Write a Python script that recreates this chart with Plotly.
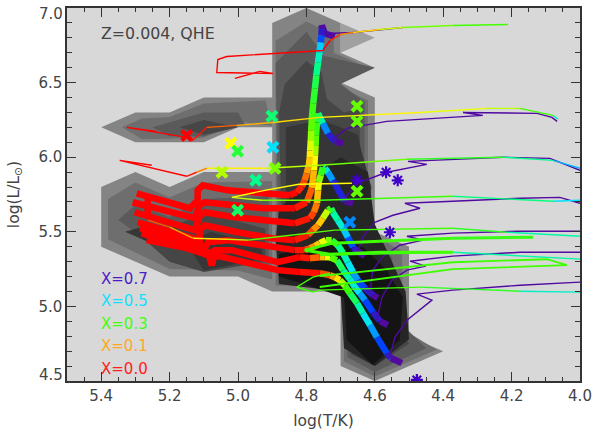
import plotly.graph_objects as go

# ---- grey density bands (logT, logL outlines, lightest first) ----
band_tip = [[(4.7,6.9),(4.6,6.8),(4.7,6.7)]]
band_outer = [[(4.9,6.9),(4.8,7.0),(4.7,6.9),(4.7,6.7),(4.6,6.6),(4.7,6.5),(4.6,6.4),(4.6,5.5),(4.5,5.4),(4.5,4.8),(4.4,4.7),(4.6,4.5),(4.7,4.6),(4.7,5.1),(4.9,5.1),(5.0,5.2),(5.2,5.2),(5.4,5.4),(5.4,5.8),(5.3,5.9),(5.2,5.8),(5.1,5.9),(4.9,5.9),(4.9,6.2),(5.0,6.2),(5.1,6.1),(5.3,6.1),(5.4,6.2),(5.3,6.3),(5.2,6.3),(5.1,6.4),(4.9,6.4)]]
band_3 = [
    [(4.89,6.6),(4.89,6.78),(4.8,6.91),(4.74,6.84),(4.72,6.78),(4.72,6.7),(4.62,6.6),(4.72,6.49),(4.62,6.38),(4.62,5.5),(4.52,5.37),(4.52,4.85),(4.42,4.71),(4.6,4.53),(4.69,4.63),(4.69,5.13),(4.89,5.14)],
    [(5.38,5.45),(5.38,5.72),(5.3,5.83),(5.2,5.73),(5.1,5.83),(4.9,5.84),(4.9,5.18),(5.0,5.24),(5.2,5.25)],
    [(5.34,6.2),(5.28,6.26),(5.2,6.27),(5.1,6.36),(4.92,6.38),(4.9,6.21),(5.0,6.24),(5.1,6.13),(5.28,6.12)],
]
band_4 = [
    [(4.89,6.63),(4.8,6.84),(4.75,6.68),(4.6,6.6),(4.7,6.49),(4.63,6.37),(4.63,5.52),(4.55,5.33),(4.53,4.9),(4.45,4.72),(4.6,4.56),(4.68,4.66),(4.68,5.15),(4.88,5.2)],
    [(5.35,5.58),(5.3,5.68),(5.2,5.6),(5.1,5.72),(4.91,5.74),(4.91,5.25),(5.0,5.28),(5.2,5.32)],
    [(5.25,6.2),(5.1,6.3),(5.0,6.3),(4.98,6.22),(5.1,6.14),(5.2,6.14)],
]
band_5 = [
    [(4.863,6.49),(4.8,6.645),(4.756,6.57),(4.74,6.39),(4.69,6.3),(4.645,6.33),(4.64,5.6),(4.57,5.35),(4.54,4.92),(4.5,4.75),(4.6,4.6),(4.67,4.68),(4.67,5.15),(4.87,5.25),(4.88,6.3)],
    [(5.3,5.5),(5.2,5.53),(5.1,5.62),(5.0,5.57),(4.92,5.52),(4.92,5.3),(5.1,5.23),(5.2,5.3)],
    [(5.17,6.2),(5.1,6.25),(5.0,6.2),(5.1,6.15)],
]
band_6 = [
    [(4.86,6.2),(4.76,6.25),(4.7,6.2),(4.65,6.15),(4.64,6.05),(4.61,5.8),(4.62,5.6),(4.56,5.35),(4.55,4.95),(4.52,4.78),(4.6,4.62),(4.66,4.7),(4.66,5.15),(4.86,5.3)],
    [(5.33,5.5),(5.25,5.55),(5.18,5.47),(5.25,5.42)],
    [(5.15,5.42),(5.08,5.5),(5.0,5.45),(4.93,5.38),(4.93,5.32),(5.1,5.24)],
]
band_7 = [[(4.89,5.45),(4.88,5.15),(4.7,5.1),(4.69,4.72),(4.6,4.6),(4.5,4.78),(4.51,5.1),(4.55,5.3),(4.6,5.55),(4.62,5.9),(4.7,6.0),(4.8,5.85),(4.88,5.65)]]
band_8 = [[(4.88,5.35),(4.88,5.2),(4.78,5.13),(4.69,5.06),(4.688,5.02),(4.682,4.774),(4.606,4.607),(4.527,4.774),(4.518,5.06),(4.565,5.243),(4.635,5.397),(4.7,5.45),(4.8,5.4)]]
band_colors = ["#a0a0a0","#848484","#6e6e6e","#5a5a5a","#464646","#363636","#262626","#141414"]

# ---- thick tracks: logT, logL, hydrogen fraction X ----
t1_T = [4.717,4.746,4.755,4.755,4.756,4.758,4.762,4.766,4.771,4.775,4.780,4.784,4.786,4.787,4.789,4.790,4.793,4.799,4.805,4.813,4.828,4.849,4.930,5.030,5.103,5.118,5.118,5.141,5.296]
t1_L = [6.809,6.829,6.883,6.863,6.816,6.769,6.702,6.635,6.548,6.461,6.361,6.260,6.180,6.113,6.046,6.000,5.946,5.892,5.845,5.805,5.765,5.745,5.758,5.778,5.812,5.778,5.711,5.658,5.758]
t1_X = [.7,.7,.7,.7,.62,.55,.47,.42,.37,.34,.32,.3,.27,.24,.2,.17,.13,.09,.06,.03,.01,0,0,0,0,0,0,0,0]
t2_T = [4.693,4.717,4.737,4.752,4.766,4.769,4.772,4.773,4.775,4.778,4.784,4.799,4.834,4.930,5.009,5.097,5.112,5.126,5.308]
t2_L = [6.093,6.106,6.160,6.227,6.294,6.233,6.146,6.080,6.013,5.912,5.792,5.698,5.658,5.658,5.678,5.698,5.678,5.591,5.698]
t2_X = [.7,.7,.6,.5,.36,.33,.3,.27,.23,.17,.09,.03,0,0,0,0,0,0,0]
t3_T = [4.664,4.688,4.723,4.737,4.746,4.752,4.758,4.764,4.766,4.769,4.778,4.790,4.834,4.930,5.009,5.097,5.112,5.126,5.302]
t3_L = [5.691,5.705,5.845,5.899,5.926,5.932,5.879,5.832,5.778,5.691,5.631,5.591,5.557,5.578,5.598,5.631,5.604,5.511,5.631]
t3_X = [.7,.7,.58,.5,.45,.36,.28,.24,.18,.1,.06,.03,0,0,0,0,0,0,0]
t4_T = [4.629,4.650,4.664,4.679,4.693,4.708,4.723,4.728,4.737,4.752,4.766,4.781,4.796,4.834,4.901,5.001,5.097,5.112,5.112,5.293]
t4_L = [5.337,5.370,5.397,5.464,5.524,5.578,5.631,5.658,5.644,5.591,5.544,5.511,5.477,5.444,5.457,5.497,5.544,5.511,5.444,5.564]
t4_X = [.7,.7,.62,.55,.48,.44,.4,.34,.28,.18,.12,.07,.03,0,0,0,0,0,0,0]
t5_T = [4.591,4.606,4.629,4.650,4.664,4.679,4.693,4.708,4.726,4.743,4.761,4.775,4.790,4.805,4.834,4.901,5.030,5.088,5.097,5.287]
t5_L = [5.056,5.076,5.122,5.176,5.230,5.296,5.357,5.410,5.444,5.444,5.424,5.404,5.390,5.377,5.377,5.397,5.444,5.430,5.390,5.524]
t5_X = [.7,.7,.62,.56,.52,.46,.42,.38,.3,.24,.18,.12,.07,.03,0,0,0,0,0,0]
t6_T = [4.562,4.585,4.606,4.629,4.644,4.658,4.673,4.693,4.711,4.731,4.746,4.761,4.790,4.819,4.884,5.018,5.068,5.088,5.282]
t6_L = [4.875,4.902,4.962,5.042,5.089,5.129,5.183,5.243,5.310,5.330,5.330,5.330,5.323,5.330,5.296,5.377,5.377,5.343,5.491]
t6_X = [.7,.7,.62,.56,.52,.48,.44,.4,.33,.25,.17,.1,.03,0,0,0,0,0,0]
t7_T = [4.521,4.553,4.565,4.594,4.614,4.635,4.652,4.673,4.688,4.702,4.717,4.731,4.761,4.819,4.884,5.030,5.068,5.077,5.088,5.267]
t7_L = [4.620,4.654,4.687,4.794,4.875,4.955,5.022,5.089,5.142,5.176,5.196,5.209,5.223,5.230,5.243,5.323,5.343,5.276,5.363,5.444]
t7_X = [.7,.7,.62,.56,.52,.46,.4,.33,.28,.2,.14,.08,.02,0,0,0,0,0,0,0]
hook_T = [5.264,5.264]
hook_L = [5.745,5.600]
hook_X = [0,0]

# ---- thin tracks ----
a1_T = [4.740,4.664,4.518]
a1_L = [6.829,6.836,6.869]
a1_X = [.7,.7,.7]
a2_T = [4.211,4.372,4.518,4.585,4.664,4.702,4.731,4.752,5.033,5.059,5.062,4.898,4.936,5.009]
a2_L = [6.889,6.883,6.869,6.856,6.836,6.822,6.782,6.715,6.675,6.655,6.568,6.561,6.575,6.528]
a2_X = [.3,.3,.25,.2,.12,.05,0,0,0,0,0,0,0,0]
b1_T = [4.726,4.682,4.565,4.284,4.342,4.126,4.082,4.067]
b1_L = [6.113,6.193,6.240,6.280,6.300,6.294,6.267,6.240]
b1_X = [.7,.7,.7,.7,.7,.7,.7,.7]
b2_T = [4.064,4.079,4.175,4.272,4.468,4.761,4.898,5.004,5.091,5.132,5.150,5.325,5.238]
b2_L = [6.254,6.280,6.327,6.327,6.300,6.267,6.233,6.213,6.200,6.113,6.133,6.200,6.173]
b2_X = [.55,.35,.25,.22,.2,.18,.15,.1,.03,0,0,0,0]
c1_T = [4.693,4.652,4.565,4.448,4.503,4.225,4.088,4.000]
c1_L = [5.711,5.825,5.899,5.952,5.972,6.000,5.992,5.912]
c1_X = [.7,.7,.7,.7,.7,.7,.7,.7]
c2_T = [4.000,4.079,4.225,4.506,4.761,4.916,5.091,5.121,5.150,5.346,5.252]
c2_L = [5.926,5.979,6.000,5.986,5.946,5.926,5.926,5.899,5.872,5.979,5.946]
c2_X = [.6,.45,.35,.3,.25,.22,.15,.03,0,0,0]
d1_T = [4.650,4.635,4.600,4.547,4.468,4.512,4.372,4.175,4.059,4.000]
d1_L = [5.363,5.464,5.564,5.611,5.658,5.691,5.705,5.725,5.731,5.691]
d1_X = [.7,.7,.7,.7,.7,.7,.7,.7,.7,.7]
d2_T = [4.000,4.079,4.372,4.761,4.930,5.018,4.922,4.822,4.667]
d2_L = [5.711,5.705,5.738,5.711,5.711,5.731,5.778,5.819,5.825]
d2_X = [.55,.45,.33,.28,.26,.2,.2,.2,.2]
e1_T = [4.614,4.606,4.579,4.527,4.459,4.506,4.372,4.175,4.000]
e1_L = [5.089,5.243,5.330,5.410,5.444,5.470,5.491,5.504,5.504]
e1_X = [.7,.7,.7,.7,.7,.7,.7,.7,.7]
e2_T = [4.000,4.214,4.372,4.717,4.971,5.030,5.132,5.200,5.264]
e2_L = [5.470,5.497,5.524,5.511,5.444,5.450,5.457,5.531,5.578]
e2_X = [.5,.35,.3,.3,.28,.2,.15,.08,.03]
f1_T = [4.137,4.372,4.585,4.723,4.805,4.731,4.585,4.372]
f1_L = [5.464,5.457,5.437,5.424,5.377,5.350,5.363,5.363]
f1_X = [.32,.31,.3,.3,.3,.3,.3,.3]
g1_T = [4.594,4.579,4.550,4.506,4.451,4.497,4.372,4.175,4.000]
g1_L = [4.908,5.062,5.176,5.243,5.270,5.303,5.337,5.363,5.363]
g1_X = [.7,.7,.7,.7,.7,.7,.7,.7,.7]
g2_T = [4.000,4.372,4.761]
g2_L = [5.317,5.363,5.343]
g2_X = [.52,.33,.3]
h1_T = [4.761,4.372,4.097,4.038,4.372,4.761]
h1_L = [5.203,5.296,5.316,5.276,5.250,5.130]
h1_X = [.3,.3,.3,.3,.3,.3]
i1_T = [4.556,4.541,4.506,4.433,4.477,4.372,4.175,4.000]
i1_L = [4.661,4.794,4.908,5.042,5.082,5.109,5.142,5.163]
i1_X = [.7,.7,.7,.7,.7,.7,.7,.7]
i2_T = [4.000,4.175,4.468,4.761,4.781,4.828,4.781,4.731]
i2_L = [5.096,5.102,5.129,5.109,5.096,5.130,5.196,5.223]
i2_X = [.55,.35,.3,.3,.3,.3,.3,.3]

# ---- end-point markers ----
cross_T = [5.150,4.901,5.021,5.001,4.898,4.892,5.047,4.948,5.001,4.652,4.652,4.652,4.673]
cross_L = [6.146,6.274,6.093,6.040,6.066,5.926,5.899,5.845,5.644,6.341,6.240,5.772,5.564]
cross_X = [0,.38,.2,.34,.5,.27,.24,.4,.37,.28,.28,.28,.55]
star_T = [4.652,4.567,4.533,4.556,4.477]
star_L = [5.845,5.899,5.845,5.497,4.507]

legend_labels = ["X=0.7","X=0.5","X=0.3","X=0.1","X=0.0"]
legend_colors = ["#4a1cc8","#10e0ff","#40ff10","#ffa820","#ff2020"]
legend_L = [5.183,5.035,4.882,4.734,4.580]

stops = [(0,(255,0,0)),(.1,(255,150,0)),(.2,(255,255,0)),(.3,(64,255,0)),(.4,(0,255,140)),
         (.5,(0,225,255)),(.6,(0,50,255)),(.7,(80,10,160))]
def col(x):
    for (a,ca),(b,cb) in zip(stops,stops[1:]):
        if x <= b:
            f = (x-a)/(b-a)
            return "rgb(%d,%d,%d)" % tuple(round(p+(q-p)*f) for p,q in zip(ca,cb))
    return "rgb(80,10,160)"

fig = go.Figure()
for polys, c in zip([band_tip,band_outer,band_3,band_4,band_5,band_6,band_7,band_8], band_colors):
    xs, ys = [], []
    for p in polys:
        xs += [q[0] for q in p] + [p[0][0], None]
        ys += [q[1] for q in p] + [p[0][1], None]
    fig.add_trace(go.Scatter(x=xs, y=ys, mode="lines", fill="toself", fillcolor=c, line=dict(width=0), hoverinfo="skip"))

def draw(tracks, width):
    for T, L, X in tracks:
        i = 0
        while i < len(T)-1:
            j = i+1
            while j < len(T)-1 and X[j] == X[i] and X[j+1] == X[i]:
                j += 1
            fig.add_trace(go.Scatter(x=T[i:j+1], y=L[i:j+1], mode="lines", hoverinfo="skip",
                                     line=dict(color=col((X[i]+X[j])/2), width=width)))
            i = j

draw([(t7_T,t7_L,t7_X),(t6_T,t6_L,t6_X),(t5_T,t5_L,t5_X),(t4_T,t4_L,t4_X),(t3_T,t3_L,t3_X),
      (t2_T,t2_L,t2_X),(t1_T,t1_L,t1_X),(hook_T,hook_L,hook_X)], 6.5)
draw([(a1_T,a1_L,a1_X),(a2_T,a2_L,a2_X),(b1_T,b1_L,b1_X),(b2_T,b2_L,b2_X),(c1_T,c1_L,c1_X),(c2_T,c2_L,c2_X),
      (d1_T,d1_L,d1_X),(d2_T,d2_L,d2_X),(e1_T,e1_L,e1_X),(e2_T,e2_L,e2_X),(g1_T,g1_L,g1_X),(g2_T,g2_L,g2_X),
      (i1_T,i1_L,i1_X),(i2_T,i2_L,i2_X)], 1.4)
draw([(h1_T,h1_L,h1_X)], 1.8)
draw([(f1_T,f1_L,f1_X)], 3)

fig.add_trace(go.Scatter(x=cross_T, y=cross_L, mode="markers", hoverinfo="skip",
    marker=dict(symbol="x-thin-open", size=10, color=[col(v) for v in cross_X], line=dict(width=4.2))))
fig.add_trace(go.Scatter(x=star_T, y=star_L, mode="markers", hoverinfo="skip",
    marker=dict(symbol="asterisk-open", size=10, color="#3f00c8", line=dict(width=2.2))))

FONT = "DejaVu Sans"
ann = [dict(text="Z=0.004, QHE", x=5.4, y=6.829, xref="x", yref="y", xanchor="left", showarrow=False,
            xshift=-2, font=dict(family=FONT, size=15.8, color="#444444"))]
for t, c, l in zip(legend_labels, legend_colors, legend_L):
    ann.append(dict(text=t, x=5.4, y=l, xref="x", yref="y", xanchor="left", showarrow=False, xshift=-2,
                    font=dict(family=FONT, size=15, color=c)))
for t, v, s in [("7.0", 7.0, -6), ("4.5", 4.5, 6)]:
    ann.append(dict(text=t, x=0, y=v, xref="paper", yref="y", xanchor="right", showarrow=False, xshift=-2, yshift=s,
                    font=dict(family=FONT, size=15, color="#444444")))
fig.update_layout(
    width=594, height=430, showlegend=False, paper_bgcolor="white", plot_bgcolor="#d8d8d8",
    margin=dict(l=67, r=14, t=8, b=49), font=dict(family=FONT, size=15, color="#444444"), annotations=ann,
    xaxis=dict(range=[5.5,4.0], tickvals=[5.4,5.2,5.0,4.8,4.6,4.4,4.2,4.0], ticktext=["5.4","5.2","5.0","4.8","4.6","4.4","4.2","4.0"],
               ticks="inside", ticklen=9, tickwidth=1.3, tickcolor="#333333", showgrid=False, zeroline=False,
               showline=True, linewidth=1.5, linecolor="#333333", mirror="ticks", automargin=False,
               minor=dict(dtick=0.05, tick0=4.0, ticks="inside", ticklen=4, tickwidth=1, tickcolor="#333333", showgrid=False),
               title=dict(text="log(T/K)", font=dict(size=15.5))),
    yaxis=dict(range=[4.5,7.0], tickvals=[5.0,5.5,6.0,6.5], ticktext=["5.0","5.5","6.0","6.5"],
               ticks="inside", ticklen=9, tickwidth=1.3, tickcolor="#333333", showgrid=False, zeroline=False,
               showline=True, linewidth=1.5, linecolor="#333333", mirror="ticks", automargin=False,
               minor=dict(dtick=0.1, tick0=4.5, ticks="inside", ticklen=5, tickwidth=1, tickcolor="#333333", showgrid=False),
               title=dict(text="log(L/L<sub>⊙</sub>)", font=dict(size=15.5))),
)
fig.write_html("out.html", config=dict(displayModeBar=False), post_script="document.body.style.margin='0';")
